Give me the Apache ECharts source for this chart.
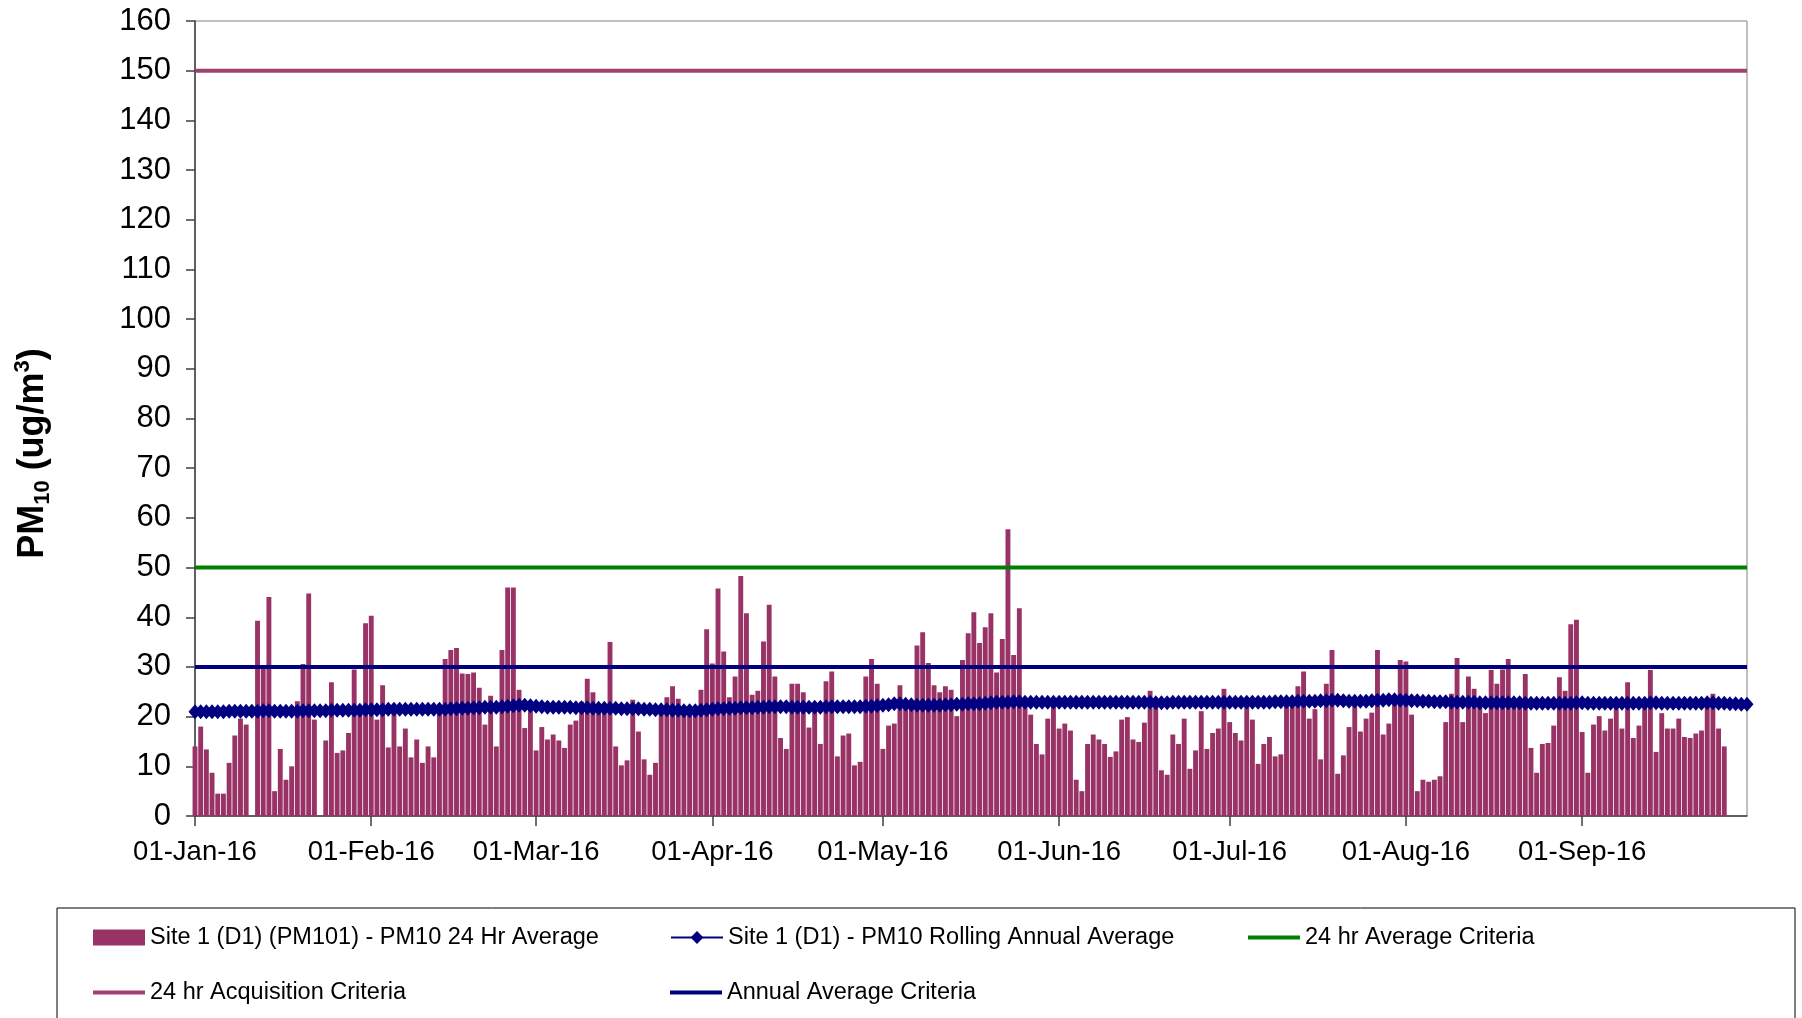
<!DOCTYPE html>
<html><head><meta charset="utf-8">
<script src="https://cdn.jsdelivr.net/npm/echarts@6/dist/echarts.min.js"></script>
<style>html,body{margin:0;padding:0;background:#fff}#c{width:1802px;height:1018px}</style>
</head><body><div id="c"></div>
<script>
// ---- data ----
const startYear = 2016;
const dayCount = 274; // 01-Jan-16 .. 30-Sep-16
const monthNames = ['Jan','Feb','Mar','Apr','May','Jun','Jul','Aug','Sep','Oct','Nov','Dec'];

const pm10Daily = [
  14.0, 18.0, 13.4, 8.7, 4.5, 4.5, 10.7, 16.2, 19.6, 18.4,
  null, 39.3, 30.0, 44.1, 5.0, 13.5, 7.3, 10.0, 23.1, 30.6,
  44.8, 19.4, null, 15.2, 26.9, 12.7, 13.2, 16.7, 29.5, 22.0,
  38.8, 40.3, 19.4, 26.3, 13.8, 20.7, 14.0, 17.6, 11.8, 15.4,
  10.7, 14.0, 11.8, 22.0, 31.6, 33.4, 33.8, 28.7, 28.6, 28.9,
  25.8, 18.4, 24.2, 14.0, 33.4, 46.0, 46.0, 25.4, 17.7, 21.5,
  13.2, 17.9, 15.4, 16.4, 15.2, 13.7, 18.4, 19.2, 23.0, 27.6,
  24.9, 22.0, 22.0, 35.0, 14.0, 10.2, 11.2, 23.4, 17.0, 11.4,
  8.3, 10.7, 22.0, 23.9, 26.1, 23.6, 22.0, 22.0, 22.0, 25.4,
  37.6, 30.7, 45.8, 33.1, 23.9, 28.1, 48.3, 40.8, 24.4, 25.2,
  35.1, 42.5, 28.1, 15.7, 13.5, 26.6, 26.6, 24.9, 17.8, 21.5,
  14.5, 27.1, 29.1, 12.0, 16.2, 16.6, 10.2, 10.9, 28.1, 31.6,
  26.6, 13.5, 18.2, 18.6, 26.3, 22.0, 22.5, 34.3, 37.0, 30.8,
  26.3, 24.9, 26.1, 25.4, 20.1, 31.4, 36.8, 41.0, 34.8, 38.0,
  40.8, 28.9, 35.6, 57.7, 32.4, 41.8, 22.5, 20.4, 14.5, 12.4,
  19.6, 22.6, 17.6, 18.6, 17.2, 7.3, 5.0, 14.5, 16.4, 15.4,
  14.5, 11.9, 13.0, 19.4, 19.9, 15.4, 14.9, 18.8, 25.2, 23.0,
  9.2, 8.3, 16.4, 14.5, 19.6, 9.5, 13.2, 21.1, 13.5, 16.7,
  17.6, 25.6, 18.9, 16.7, 15.2, 22.5, 19.4, 10.5, 14.5, 15.9,
  12.0, 12.4, 23.0, 23.5, 26.1, 29.1, 19.6, 21.5, 11.4, 26.6,
  33.4, 8.5, 12.2, 17.9, 22.5, 17.0, 19.6, 20.8, 33.4, 16.4,
  18.6, 22.5, 31.4, 31.1, 20.4, 5.0, 7.3, 6.9, 7.3, 8.0,
  18.9, 24.6, 31.8, 18.9, 28.1, 25.6, 22.5, 20.7, 29.4, 26.6,
  29.5, 31.6, 23.0, 23.0, 28.6, 13.7, 8.7, 14.5, 14.7, 18.2,
  27.9, 25.2, 38.6, 39.5, 16.9, 8.7, 18.4, 20.1, 17.2, 19.6,
  22.0, 17.6, 26.9, 15.7, 18.2, 22.5, 29.4, 12.9, 20.7, 17.6,
  17.6, 19.6, 15.9, 15.7, 16.6, 17.2, 23.0, 24.6, 17.6, 14.0,
  null, null, null, null
];

const rollingAnnual = [
  21.0, 21.0, 21.0, 21.0, 21.0, 21.0, 21.1, 21.1, 21.1, 21.1,
  21.1, 21.1, 21.2, 21.2, 21.1, 21.1, 21.1, 21.1, 21.1, 21.2,
  21.2, 21.2, 21.2, 21.2, 21.3, 21.3, 21.3, 21.3, 21.3, 21.3,
  21.4, 21.4, 21.4, 21.4, 21.5, 21.5, 21.5, 21.5, 21.5, 21.5,
  21.5, 21.5, 21.5, 21.5, 21.5, 21.6, 21.6, 21.7, 21.7, 21.8,
  21.8, 21.9, 21.9, 21.9, 22.0, 22.1, 22.2, 22.3, 22.3, 22.2,
  22.1, 22.0, 21.9, 21.9, 21.9, 21.9, 21.9, 21.8, 21.8, 21.8,
  21.7, 21.7, 21.7, 21.7, 21.7, 21.6, 21.6, 21.6, 21.6, 21.5,
  21.5, 21.4, 21.4, 21.4, 21.3, 21.3, 21.2, 21.2, 21.2, 21.3,
  21.4, 21.5, 21.6, 21.6, 21.7, 21.7, 21.8, 21.8, 21.8, 21.9,
  21.9, 22.0, 22.0, 22.0, 22.0, 21.9, 21.9, 21.9, 21.9, 21.9,
  21.9, 22.0, 22.0, 22.0, 22.0, 22.0, 22.0, 22.0, 22.1, 22.1,
  22.2, 22.3, 22.4, 22.6, 22.6, 22.5, 22.4, 22.3, 22.3, 22.3,
  22.3, 22.3, 22.4, 22.4, 22.5, 22.5, 22.6, 22.6, 22.6, 22.7,
  22.8, 22.9, 22.9, 22.9, 23.0, 23.0, 22.9, 22.9, 22.9, 22.9,
  22.9, 22.9, 22.9, 22.9, 22.9, 22.9, 22.9, 22.9, 22.9, 22.9,
  22.9, 22.9, 22.9, 22.9, 22.9, 22.9, 22.9, 22.9, 22.9, 22.8,
  22.8, 22.8, 22.9, 22.9, 22.9, 22.9, 22.9, 22.9, 22.9, 22.9,
  22.9, 22.9, 22.9, 22.9, 22.9, 22.9, 22.9, 22.9, 22.9, 22.9,
  23.0, 23.0, 23.0, 23.0, 23.1, 23.1, 23.1, 23.1, 23.2, 23.2,
  23.3, 23.3, 23.2, 23.1, 23.1, 23.1, 23.1, 23.2, 23.3, 23.3,
  23.4, 23.4, 23.3, 23.3, 23.2, 23.2, 23.1, 23.1, 23.0, 23.0,
  23.0, 22.9, 22.9, 22.9, 22.9, 22.9, 22.8, 22.8, 22.8, 22.8,
  22.8, 22.8, 22.8, 22.8, 22.7, 22.7, 22.7, 22.7, 22.7, 22.7,
  22.7, 22.7, 22.7, 22.8, 22.8, 22.7, 22.7, 22.7, 22.7, 22.7,
  22.7, 22.7, 22.7, 22.7, 22.7, 22.7, 22.8, 22.8, 22.7, 22.7,
  22.7, 22.7, 22.7, 22.7, 22.7, 22.7, 22.8, 22.8, 22.7, 22.7,
  22.6, 22.6, 22.5, 22.5
];

const criteria24hAverage = 50;
const criteria24hAcquisition = 150;
const criteriaAnnualAverage = 30;

const yMin = 0, yMax = 160, yInterval = 10;

const seriesNames = [
  'Site 1 (D1) (PM101) - PM10 24 Hr Average',
  'Site 1 (D1) - PM10 Rolling Annual Average',
  '24 hr Average Criteria',
  '24 hr Acquisition Criteria',
  'Annual Average Criteria'
];

// ---- categories (consecutive dates) ----
const categories = [];
for (let i = 0; i < dayCount; i++) {
  const d = new Date(Date.UTC(startYear, 0, 1 + i));
  categories.push(String(d.getUTCDate()).padStart(2, '0') + '-' + monthNames[d.getUTCMonth()] + '-' + String(d.getUTCFullYear()).slice(2));
}
const firstCat = categories[0], lastCat = categories[categories.length - 1];
const isMonthStart = (idx, val) => String(val).startsWith('01-');

const FONT = "'Liberation Sans', Arial, sans-serif";
const LINE_ICON = 'path://M0,0H52V4H0Z';

const chart = echarts.init(document.getElementById('c'), null, { renderer: 'canvas' });
chart.setOption({
  animation: false,
  backgroundColor: '#fff',
  grid: {
    left: 195, right: 55, top: 21, bottom: 202,
    show: true, borderColor: '#808080', borderWidth: 1, backgroundColor: 'transparent'
  },
  legend: {
    left: 57, top: 908, width: 1720,
    padding: [17, 0, 60, 36],
    borderColor: '#000', borderWidth: 1,
    itemGap: 30, itemWidth: 52, itemHeight: 16,
    symbolKeepAspect: true,
    textStyle: { fontFamily: FONT, fontSize: 23.5, color: '#000', width: 490, height: 25, lineHeight: 25 },
    data: [
      { name: seriesNames[0], icon: 'rect' },
      { name: seriesNames[1] },
      { name: seriesNames[2], icon: LINE_ICON },
      { name: seriesNames[3], icon: LINE_ICON },
      { name: seriesNames[4], icon: LINE_ICON }
    ]
  },
  xAxis: {
    type: 'category',
    data: categories,
    boundaryGap: false,
    axisLine: { lineStyle: { color: '#404040', width: 1.5 } },
    axisTick: { show: true, interval: isMonthStart, length: 10, lineStyle: { color: '#404040', width: 1.5 } },
    axisLabel: { interval: isMonthStart, margin: 22, fontFamily: FONT, fontSize: 27.5, color: '#000' },
    splitLine: { show: false }
  },
  yAxis: {
    type: 'value',
    min: yMin, max: yMax, interval: yInterval,
    axisLine: { show: true, lineStyle: { color: '#404040', width: 1.5 } },
    axisTick: { show: true, length: 9, lineStyle: { color: '#404040', width: 1.5 } },
    axisLabel: { margin: 24, fontFamily: FONT, fontSize: 31, color: '#000' },
    splitLine: { show: false },
    name: '{a|PM}{s|10}{a| (ug/m}{p|3}{a|)}',
    nameLocation: 'middle',
    nameGap: 141,
    nameTextStyle: {
      padding: [0, 70, 0, 0],
      rich: {
        a: { fontFamily: FONT, fontSize: 36, fontWeight: 'bold', color: '#000', lineHeight: 42 },
        s: { fontFamily: FONT, fontSize: 22, fontWeight: 'bold', color: '#000', verticalAlign: 'bottom', lineHeight: 26 },
        p: { fontFamily: FONT, fontSize: 22, fontWeight: 'bold', color: '#000', verticalAlign: 'top', lineHeight: 26 }
      }
    }
  },
  series: [
    {
      name: seriesNames[0], type: 'bar', data: pm10Daily,
      barCategoryGap: '14%', clip: true, z: 1,
      itemStyle: { color: '#993366' }
    },
    {
      name: seriesNames[1], type: 'line', data: rollingAnnual,
      symbol: 'diamond', symbolSize: [13, 15], showAllSymbol: true, z: 4,
      lineStyle: { color: '#000080', width: 2.5 },
      itemStyle: { color: '#000080' }
    },
    {
      name: seriesNames[2], type: 'line', symbol: 'none', z: 3,
      data: [[firstCat, criteria24hAverage], [lastCat, criteria24hAverage]],
      lineStyle: { color: '#008000', width: 4 }, itemStyle: { color: '#008000' }
    },
    {
      name: seriesNames[3], type: 'line', symbol: 'none', z: 3,
      data: [[firstCat, criteria24hAcquisition], [lastCat, criteria24hAcquisition]],
      lineStyle: { color: '#A0416F', width: 4 }, itemStyle: { color: '#A0416F' }
    },
    {
      name: seriesNames[4], type: 'line', symbol: 'none', z: 3,
      data: [[firstCat, criteriaAnnualAverage], [lastCat, criteriaAnnualAverage]],
      lineStyle: { color: '#000080', width: 4 }, itemStyle: { color: '#000080' }
    }
  ]
});
</script>
</body></html>
